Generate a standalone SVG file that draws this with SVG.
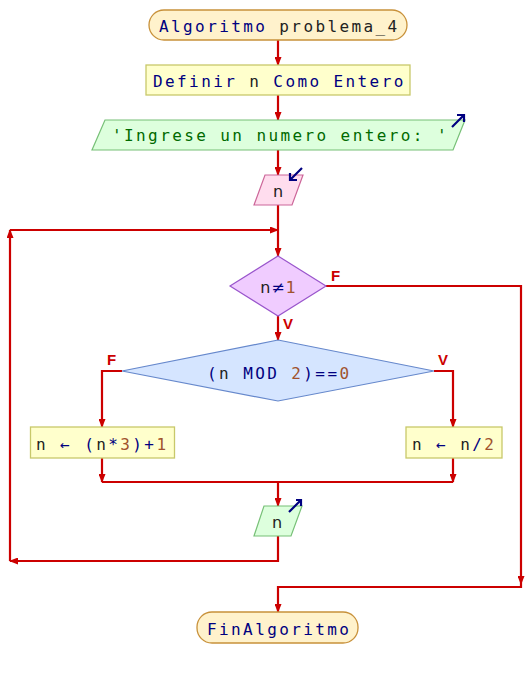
<svg xmlns="http://www.w3.org/2000/svg" width="532" height="675" viewBox="0 0 532 675">
<style>
.c{fill:none;stroke:#cc0000;stroke-width:2.2}
.m{font-family:"DejaVu Sans Mono","Liberation Mono",monospace;font-size:16px;letter-spacing:2.4px}
.s{font-family:"DejaVu Sans","Liberation Sans",sans-serif;font-size:16px}
.kw{fill:#000080}
.v{fill:#222}
.num{fill:#a0522d}
.str{fill:#006a00}
.lbl{font-family:"Liberation Sans","DejaVu Sans",sans-serif;font-size:15px;font-weight:bold;fill:#cc0000}
.term{fill:#fff2cc;stroke:#c8913a;stroke-width:1.3}
.proc{fill:#ffffcc;stroke:#c8c86a;stroke-width:1.3}
.out{fill:#ddffdd;stroke:#77c077;stroke-width:1.2}
.in{fill:#ffddee;stroke:#cc6699;stroke-width:1.2}
.ico{fill:none;stroke:#000080;stroke-width:2.2}
</style>
<defs>
<marker id="a" markerUnits="userSpaceOnUse" markerWidth="9" markerHeight="7" viewBox="0 0 9 7" refX="8" refY="3.5" orient="auto">
<path d="M0,0 L9,3.5 L0,7 z" fill="#cc0000"/>
</marker>
</defs>
<g id="connectors">
<path class="c" d="M278,40 V65" marker-end="url(#a)"/>
<path class="c" d="M278,95 V120" marker-end="url(#a)"/>
<path class="c" d="M278,150 V175" marker-end="url(#a)"/>
<path class="c" d="M278,205 V256" marker-end="url(#a)"/>
<path class="c" d="M278,316 V340" marker-end="url(#a)"/>
<path class="c" d="M326,286 H521 V584" marker-end="url(#a)"/>
<path class="c" d="M521,584 V587 H278 V612" marker-end="url(#a)"/>
<path class="c" d="M122,371 H102 V427" marker-end="url(#a)"/>
<path class="c" d="M434,371 H453 V427" marker-end="url(#a)"/>
<path class="c" d="M102,458 V482" marker-end="url(#a)"/>
<path class="c" d="M453,458 V482" marker-end="url(#a)"/>
<path class="c" d="M102,482 H453"/>
<path class="c" d="M278,482 V506" marker-end="url(#a)"/>
<path class="c" d="M278,536 V561 H10" marker-end="url(#a)"/>
<path class="c" d="M10,561 V230" marker-end="url(#a)"/>
<path class="c" d="M10,230 H278" marker-end="url(#a)"/>
<text class="lbl" x="331" y="281">F</text>
<text class="lbl" x="283" y="329">V</text>
<text class="lbl" x="107" y="365">F</text>
<text class="lbl" x="438" y="365">V</text>
</g>
<g id="start">
<rect class="term" x="149" y="10" width="258" height="30" rx="15" ry="15"/>
<text class="m" x="159" y="32"><tspan class="kw">Algoritmo</tspan><tspan class="v"> problema_4</tspan></text>
</g>
<g id="define">
<rect class="proc" x="146" y="65" width="264" height="30"/>
<text class="m" x="153" y="87"><tspan class="kw">Definir </tspan><tspan class="v">n</tspan><tspan class="kw"> Como Entero</tspan></text>
</g>
<g id="write1">
<polygon class="out" points="105,120 465,120 453,150 92,150"/>
<text class="m str" x="112" y="141">'Ingrese un numero entero: '</text>
<path class="ico" d="M452,127 L464,115 M457,115 H464 V122"/>
</g>
<g id="read">
<polygon class="in" points="265,175 303,175 292,205 254,205"/>
<text class="s v" x="278" y="197" text-anchor="middle">n</text>
<path class="ico" d="M302,168 L290,180 M290,173 V180 H297"/>
</g>
<g id="while">
<polygon points="278,256 326,286 278,316 230,286" fill="#f0ccff" stroke="#9955cc" stroke-width="1.2"/>
<text class="s" x="278" y="293" text-anchor="middle"><tspan class="v">n</tspan><tspan class="kw" dx="1">≠</tspan><tspan class="num" dx="1">1</tspan></text>
</g>
<g id="if">
<polygon points="278,340 434,371 278,401 122,371" fill="#d5e5ff" stroke="#6688cc" stroke-width="1.2"/>
<text class="m" x="207" y="379"><tspan class="kw">(</tspan><tspan class="v">n</tspan><tspan class="kw"> MOD </tspan><tspan class="num">2</tspan><tspan class="kw">)==</tspan><tspan class="num">0</tspan></text>
</g>
<g id="odd">
<rect class="proc" x="30.5" y="427" width="144" height="31"/>
<text class="m" x="36" y="450"><tspan class="v">n</tspan><tspan class="kw"> ← (</tspan><tspan class="v">n</tspan><tspan class="kw">*</tspan><tspan class="num">3</tspan><tspan class="kw">)+</tspan><tspan class="num">1</tspan></text>
</g>
<g id="even">
<rect class="proc" x="406" y="427" width="96" height="31"/>
<text class="m" x="412" y="450"><tspan class="v">n</tspan><tspan class="kw"> ← </tspan><tspan class="v">n</tspan><tspan class="kw">/</tspan><tspan class="num">2</tspan></text>
</g>
<g id="write2">
<polygon class="out" points="264,506 302,506 291,536 254,536"/>
<text class="s v" x="277" y="528" text-anchor="middle">n</text>
<path class="ico" d="M289,512 L301,500 M296,500 H301 V506"/>
</g>
<g id="end">
<rect class="term" x="197" y="612" width="161" height="31" rx="15" ry="15"/>
<text class="m kw" x="207" y="635">FinAlgoritmo</text>
</g>
</svg>
